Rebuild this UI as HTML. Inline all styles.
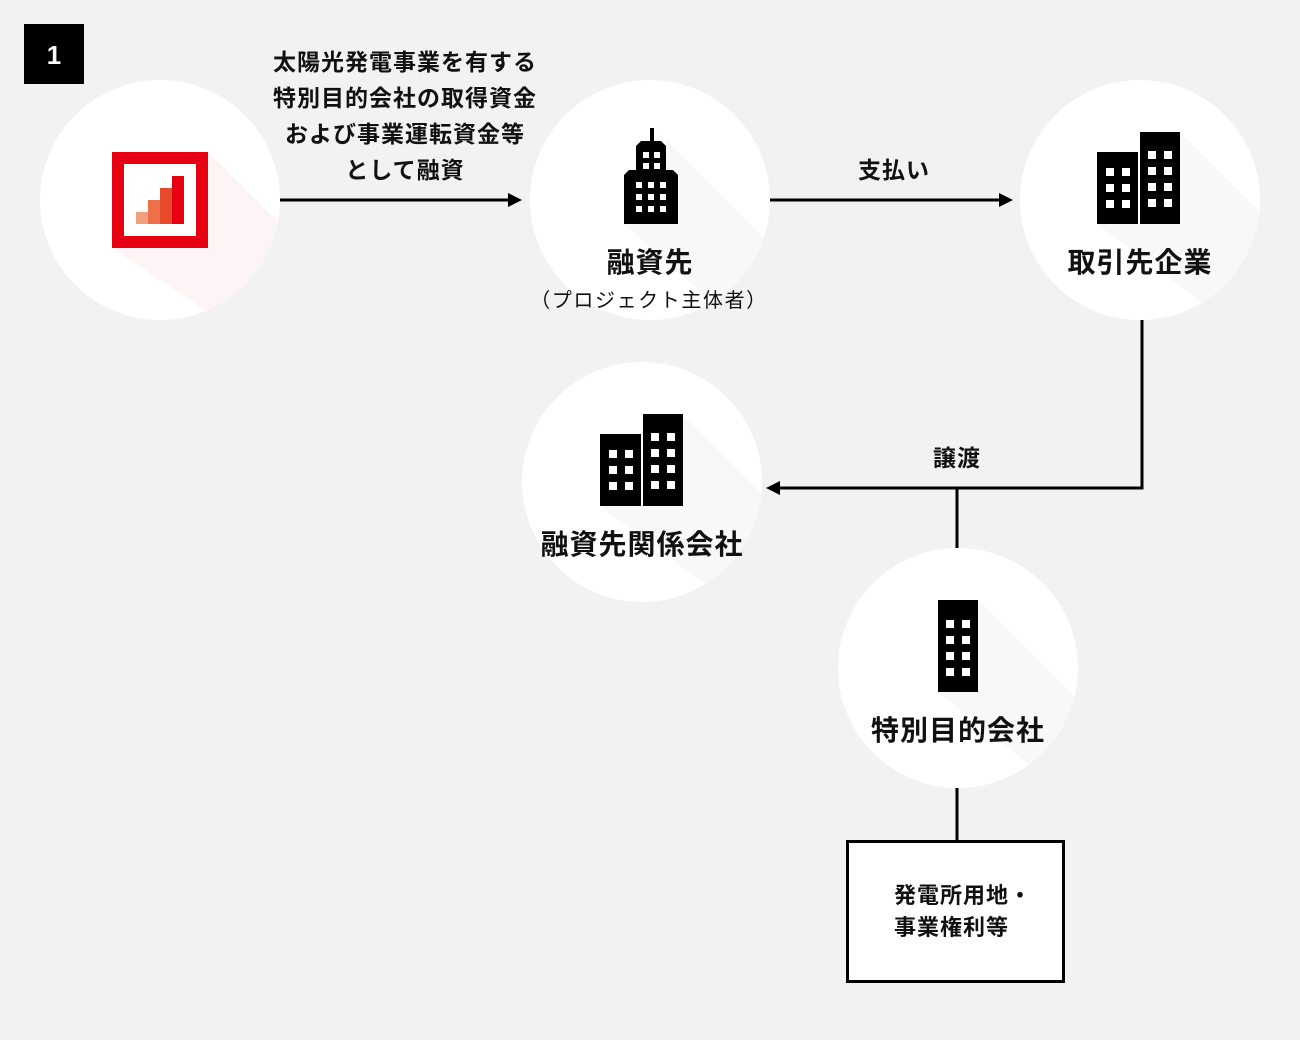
<!DOCTYPE html>
<html><head><meta charset="utf-8"><style>
html,body{margin:0;padding:0;background:#f2f2f2}
svg{display:block}
text{font-family:"Liberation Sans","Noto Sans CJK JP",sans-serif;font-weight:bold;fill:#111}
</style></head><body>
<svg width="1300" height="1040" viewBox="0 0 1300 1040" xmlns="http://www.w3.org/2000/svg">
<defs>
<clipPath id="c1"><circle cx="160" cy="200" r="120"/></clipPath>
<clipPath id="c2"><circle cx="650" cy="200" r="120"/></clipPath>
<clipPath id="c3"><circle cx="1140" cy="200" r="120"/></clipPath>
<clipPath id="c4"><circle cx="642" cy="482" r="120"/></clipPath>
<clipPath id="c5"><circle cx="958" cy="668" r="120"/></clipPath>
</defs>
<rect x="24" y="24" width="60" height="60" fill="#000"/>
<text x="54" y="64" font-size="26" text-anchor="middle" style="fill:#fff">1</text>

<circle cx="160" cy="200" r="120" fill="#fff"/>
<polygon clip-path="url(#c1)" points="208,152 400,344 400,440 112,248 208,248" fill="#fdf5f5"/>
<circle cx="650" cy="200" r="120" fill="#fff"/>
<polygon clip-path="url(#c2)" points="654,128 900,374 900,470 624,224 678,224 678,170 666,170 666,141" fill="#f8f8f8"/>
<circle cx="1140" cy="200" r="120" fill="#fff"/>
<polygon clip-path="url(#c3)" points="1180,132 1400,352 1400,450 1097,224 1180,224" fill="#f8f8f8"/>
<circle cx="642" cy="482" r="120" fill="#fff"/>
<polygon clip-path="url(#c4)" points="682,414 900,632 900,730 600,506 682,506" fill="#f8f8f8"/>
<circle cx="958" cy="668" r="120" fill="#fff"/>
<polygon clip-path="url(#c5)" points="978,600 1200,822 1200,900 938,692 978,692" fill="#f8f8f8"/>

<rect x="118" y="158" width="84" height="84" fill="#fff" stroke="#e60012" stroke-width="12"/>
<rect x="136" y="212" width="12" height="12" fill="#f0a07a"/>
<rect x="148" y="200" width="12" height="24" fill="#ee704a"/>
<rect x="160" y="188" width="12" height="36" fill="#e84a2c"/>
<rect x="172" y="176" width="12" height="48" fill="#e60012"/>

<g fill="#000">
<rect x="650" y="128" width="4" height="15"/>
<path d="M636,170 V146 l5,-5 h20 l5,5 V170 Z"/>
<path d="M624,224 V175 l5,-5 h44 l5,5 V224 Z"/>
</g>
<g fill="#fff">
<rect x="643" y="152" width="6" height="6"/><rect x="654" y="152" width="6" height="6"/>
<rect x="643" y="163" width="6" height="6"/><rect x="654" y="163" width="6" height="6"/>
<rect x="636" y="182" width="6" height="6"/><rect x="648" y="182" width="6" height="6"/><rect x="660" y="182" width="6" height="6"/>
<rect x="636" y="194" width="6" height="6"/><rect x="648" y="194" width="6" height="6"/><rect x="660" y="194" width="6" height="6"/>
<rect x="636" y="206" width="6" height="6"/><rect x="648" y="206" width="6" height="6"/><rect x="660" y="206" width="6" height="6"/>
</g>

<g id="b3">
<rect x="1097" y="152" width="41" height="72" fill="#000"/>
<rect x="1140" y="132" width="40" height="92" fill="#000"/>
<g fill="#fff">
<rect x="1106" y="168" width="8" height="8"/><rect x="1122" y="168" width="8" height="8"/>
<rect x="1106" y="184" width="8" height="8"/><rect x="1122" y="184" width="8" height="8"/>
<rect x="1106" y="200" width="8" height="8"/><rect x="1122" y="200" width="8" height="8"/>
<rect x="1148" y="151" width="8" height="8"/><rect x="1164" y="151" width="8" height="8"/>
<rect x="1148" y="167" width="8" height="8"/><rect x="1164" y="167" width="8" height="8"/>
<rect x="1148" y="183" width="8" height="8"/><rect x="1164" y="183" width="8" height="8"/>
<rect x="1148" y="199" width="8" height="8"/><rect x="1164" y="199" width="8" height="8"/>
</g>
</g>
<use href="#b3" transform="translate(-497,282)"/>

<rect x="938" y="600" width="40" height="92" fill="#000"/>
<g fill="#fff">
<rect x="946" y="620" width="8" height="8"/><rect x="962" y="620" width="8" height="8"/>
<rect x="946" y="636" width="8" height="8"/><rect x="962" y="636" width="8" height="8"/>
<rect x="946" y="652" width="8" height="8"/><rect x="962" y="652" width="8" height="8"/>
<rect x="946" y="668" width="8" height="8"/><rect x="962" y="668" width="8" height="8"/>
</g>

<g stroke="#000" stroke-width="3" fill="none">
<line x1="280" y1="200" x2="512" y2="200"/>
<line x1="770" y1="200" x2="1004" y2="200"/>
<polyline points="1142,320 1142,488 776,488"/>
<line x1="957" y1="488" x2="957" y2="548"/>
<line x1="957" y1="788" x2="957" y2="842"/>
</g>
<polygon points="522,200 508,193 508,207" fill="#000"/>
<polygon points="1013,200 999,193 999,207" fill="#000"/>
<polygon points="766,488 780,481 780,495" fill="#000"/>

<rect x="847.5" y="841.5" width="216" height="140" fill="#fff" stroke="#000" stroke-width="3"/>

<g font-size="23" text-anchor="middle" letter-spacing="1">
<text x="405" y="70">太陽光発電事業を有する</text>
<text x="405" y="106">特別目的会社の取得資金</text>
<text x="405" y="142">および事業運転資金等</text>
<text x="405" y="178">として融資</text>
<text x="894" y="178">支払い</text>
<text x="957" y="466">譲渡</text>
</g>
<g font-size="28" text-anchor="middle" letter-spacing="1">
<text x="650" y="272">融資先</text>
<text x="1140" y="272">取引先企業</text>
<text x="642" y="554">融資先関係会社</text>
<text x="958" y="740">特別目的会社</text>
</g>
<text x="649" y="307" font-size="20" text-anchor="middle" letter-spacing="1.6" style="font-weight:normal">（プロジェクト主体者）</text>
<g font-size="22" letter-spacing="1">
<text x="894" y="903">発電所用地・</text>
<text x="894" y="935">事業権利等</text>
</g>
</svg>
</body></html>
